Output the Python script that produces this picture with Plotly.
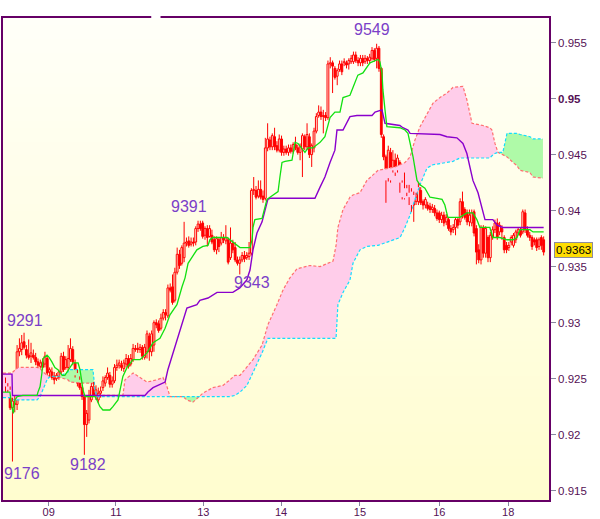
import plotly.graph_objects as go

# ---------------- data (prices in pips, i.e. price * 10000) ----------------
OPEN_PIPS = [
    9246,9243,9240,9224,9228,9227,9274,9276,9283,9276,9271,9270,9271,9269,9265,9261,9260,9263,9268,9256,9256,9252,9250,9252,9256,9270,9260,9260,9267,9276,9264,9255,9249,9242,9234,9209,9213,9231,9243,9235,9231,9237,9242,9246,9251,
    9253,9245,9248,9260,9262,9262,9259,9263,9268,9263,9267,9277,9277,9276,9278,9269,9274,9288,9274,9280,9300,9299,9295,9304,9309,9306,9331,9332,9320,9345,9361,9353,9358,9371,9373,9370,9372,9372,9384,9388,9389,9378,9384,9377,
    9378,9374,9365,9374,9371,9376,9373,9374,9358,9371,9367,9356,9353,9356,9360,9358,9359,9362,9418,9418,9413,9419,9413,9411,9456,9463,9457,9466,9458,9454,9464,9452,9455,9452,9456,9453,9459,9456,9452,9455,9466,9457,
    9466,9450,9456,9471,9485,9488,9484,9485,9483,9531,9532,9527,9520,9526,9531,9532,9532,9531,9533,9533,9539,9534,9532,9536,9533,9536,9534,9536,9543,9536,9545,9527,9466,9448,9429,9452,9436,9445,9436,9443,9425,9411,9420,
    9416,9405,9414,9408,9408,9418,9408,9405,9405,9404,9401,9402,9398,9398,9392,9396,9390,9392,9384,9383,9385,9392,9390,9408,9401,9398,9390,
    9389,9399,9384,9365,9356,9385,9362,9376,9358,9376,9383,9389,9381,9384,9376,9369,9367,9372,9369,9374,9380,9383,
    9381,9398,9383,9378,9376,9374,9374,9368,9376,9374,
]
HIGH_PIPS = [
    9251,9246,9243,9233,9235,9280,9286,9289,9291,9280,9285,9282,9276,9273,9268,9267,9268,9274,9271,9260,9260,9256,9255,9258,9273,9274,9270,9280,9286,9279,9267,9258,9252,9244,9236,9222,9240,9246,9247,9244,9242,9243,9252,9253,9260,
    9256,9252,9263,9267,9267,9266,9267,9272,9271,9272,9281,9280,9282,9281,9280,9281,9293,9291,9293,9302,9303,9302,9308,9312,9312,9334,9335,9343,9349,9367,9365,9369,9390,9376,9377,9376,9376,9386,9391,9391,9391,9386,9387,9387,
    9383,9377,9377,9376,9381,9379,9387,9376,9385,9374,9372,9359,9359,9363,9364,9363,9372,9420,9430,9422,9427,9427,9418,9465,9478,9466,9469,9474,9462,9468,9467,9458,9458,9459,9459,9461,9466,9459,9460,9469,9468,9478,
    9469,9460,9474,9487,9494,9493,9490,9488,9534,9537,9534,9529,9527,9534,9534,9536,9534,9536,9539,9542,9542,9537,9539,9539,9539,9538,9540,9546,9545,9549,9547,9528,9468,9450,9458,9456,9454,9451,9450,9445,9427,9434,9423,
    9423,9420,9417,9416,9425,9421,9410,9412,9408,9407,9406,9405,9401,9400,9399,9399,9397,9394,9387,9388,9394,9394,9411,9417,9403,9401,9401,
    9401,9401,9387,9370,9387,9387,9386,9378,9381,9386,9392,9393,9390,9387,9378,9372,9372,9378,9380,9383,9385,9385,
    9401,9401,9386,9381,9378,9376,9376,9376,9378,9377,
]
LOW_PIPS = [
    9238,9238,9222,9176,9220,9222,9270,9271,9276,9268,9267,9264,9267,9262,9260,9259,9258,9260,9253,9252,9249,9245,9248,9249,9254,9256,9258,9257,9265,9262,9251,9243,9240,9231,9182,9198,9210,9229,9234,9231,9228,9233,9239,9243,9249,
    9242,9242,9246,9257,9259,9257,9256,9260,9259,9261,9265,9274,9273,9273,9267,9267,9268,9266,9270,9274,9295,9291,9293,9302,9302,9304,9327,9316,9318,9343,9348,9351,9354,9368,9367,9368,9368,9369,9381,9382,9375,9374,9368,9376,
    9370,9363,9361,9363,9369,9371,9370,9352,9356,9362,9354,9351,9343,9354,9354,9356,9356,9360,9414,9410,9411,9410,9407,9409,9453,9454,9454,9454,9452,9452,9449,9449,9450,9449,9451,9451,9454,9450,9445,9430,9454,9454,
    9447,9439,9452,9469,9483,9481,9469,9480,9481,9527,9505,9517,9512,9524,9521,9529,9527,9526,9531,9531,9532,9529,9529,9529,9531,9531,9531,9534,9533,9527,9524,9465,9445,9407,9426,9425,9434,9431,9434,9416,9410,9410,9413,
    9405,9399,9390,9405,9405,9405,9401,9402,9400,9398,9398,9395,9391,9389,9389,9386,9387,9382,9378,9380,9378,9384,9387,9393,9392,9387,9386,
    9386,9377,9352,9353,9352,9358,9358,9354,9354,9374,9380,9374,9378,9374,9362,9362,9364,9369,9367,9371,9378,9376,
    9379,9380,9376,9373,9365,9369,9364,9365,9365,9360,
]
CLOSE_PIPS = [
    9243,9240,9224,9230,9227,9274,9277,9282,9278,9271,9269,9273,9269,9265,9262,9264,9265,9270,9255,9258,9251,9249,9253,9256,9270,9258,9267,9268,9277,9265,9253,9246,9242,9234,9209,9219,9235,9243,9235,9240,9237,9239,9248,9251,9255,
    9245,9248,9260,9262,9264,9260,9264,9268,9261,9268,9277,9276,9276,9278,9270,9278,9290,9274,9290,9300,9298,9293,9304,9309,9307,9331,9329,9318,9345,9361,9351,9367,9371,9372,9369,9372,9371,9384,9388,9384,9377,9384,9376,9384,
    9372,9365,9375,9368,9376,9374,9376,9354,9371,9365,9356,9353,9356,9360,9357,9360,9362,9418,9419,9412,9419,9412,9410,9456,9464,9457,9467,9457,9454,9464,9452,9455,9452,9456,9453,9459,9456,9452,9457,9467,9457,9468,
    9450,9458,9471,9484,9488,9484,9485,9483,9531,9532,9529,9519,9525,9531,9524,9533,9530,9534,9536,9539,9534,9532,9536,9532,9536,9534,9537,9543,9535,9545,9527,9468,9448,9427,9454,9427,9445,9434,9447,9425,9412,9420,9416,
    9412,9417,9405,9412,9421,9407,9405,9410,9402,9401,9403,9398,9393,9392,9396,9389,9394,9384,9381,9385,9392,9387,9408,9396,9394,9390,9396,
    9398,9380,9363,9356,9385,9362,9384,9358,9378,9383,9389,9376,9387,9381,9365,9365,9369,9376,9378,9381,9383,9378,
    9399,9383,9378,9376,9368,9372,9367,9374,9369,9363,
]

# Tenkan-sen (green) : bar position / value
TENKAN_X = [-1.1,1.9,2.8,3.4,4.1,5.0,7.5,13.6,14.0,14.9,15.7,16.2,17.9,18.8,20.0,21.3,22.6,24.4,25.6,27.8,29.1,31.3,32.1,33.0,33.4,34.3,
            38.6,39.4,40.7,42.0,45.0,46.3,48.5,50.6,52.4,55.0,58.0,61.0,63.6,66.6,68.8,70.9,73.9,76.1,77.4,78.7,80.8,82.5,85.1,87.3,88.1,89.4,
            95.5,98.1,101.1,105.4,106.3,106.7,107.5,110.6,112.7,114.0,117.5,118.3,119.2,120.5,123.5,124.8,126.1,129.1,130.4,132.5,135.6,137.7,
            139.0,139.9,142.0,144.2,145.5,148.5,149.8,151.9,154.1,155.8,157.1,160.6,161.4,162.3,162.7,163.6,164.4,170.0,172.2,173.5,175.7,177.4,
            178.7,180.8,183.0,186.0,188.2,189.4,190.7,195.9,198.9,201.5,203.2,204.5,208.8,210.1,213.1,216.2,218.8,220.5,221.8,226.1,227.4,232.0]
TENKAN_PIPS = [9238,9238,9224,9219,9231,9234,9235,9235,9238,9243,9255,9268,9271,9269,9265,9260,9258,9253,9253,9260,9264,9264,9258,9246,9240,9234,
               9234,9231,9225,9222,9222,9225,9231,9252,9260,9267,9267,9273,9282,9286,9295,9307,9316,9332,9340,9353,9360,9365,9368,9369,9374,9376,
               9376,9372,9367,9367,9374,9385,9392,9393,9410,9412,9417,9430,9443,9444,9445,9461,9460,9452,9456,9456,9461,9466,
               9475,9483,9488,9488,9501,9503,9510,9521,9523,9528,9532,9535,9533,9523,9508,9490,9475,9474,9472,9469,9448,9427,
               9423,9420,9412,9411,9410,9405,9394,9394,9398,9398,9392,9385,9385,9376,9376,9374,9374,9376,9383,9383,9381,9381]

# Kijun-sen (purple)
KIJUN_X = [-1.1,2.8,3.0,60.1,61.4,63.6,65.7,68.8,70.0,72.2,75.2,78.2,82.5,83.8,87.3,91.2,98.0,101.0,104.0,105.4,106.7,108.4,110.6,111.9,
           113.1,114.0,133.4,135.6,137.7,139.9,142.0,142.9,145.5,148.5,151.5,158.0,159.3,162.3,163.6,170.0,171.3,173.5,174.4,187.3,190.3,
           194.6,197.2,198.9,200.2,201.5,203.7,205.4,206.7,210.1,211.9,214.4,232.0]
KIJUN_PIPS = [9254,9254,9235,9235,9238,9242,9244,9247,9258,9273,9293,9313,9316,9320,9322,9327,9327,9331,9338,9347,9365,9380,9390,9401,
              9410,9411,9411,9421,9430,9443,9454,9472,9472,9484,9485,9485,9488,9490,9478,9476,9474,9472,9469,9468,9466,
              9465,9460,9451,9439,9427,9416,9401,9392,9392,9387,9385,9385]

# Senkou span A (salmon) and B (cyan), on a shared set of bar positions
CLOUD_X = [-1.1,2.8,3.2,5.4,13.6,14.9,16.2,17.9,19.2,23.5,26.9,27.8,34.3,37.7,38.6,39.4,50.6,51.5,55.0,58.0,61.0,65.3,67.9,69.6,70.9,
           76.5,78.2,80.8,83.8,85.1,89.4,93.8,96.8,98.9,101.1,104.1,106.7,110.6,113.1,117.0,119.6,122.6,125.6,131.2,135.6,141.2,142.5,
           143.3,145.5,148.5,149.8,152.8,155.8,160.6,167.9,170.1,172.2,174.4,176.5,178.7,181.7,184.3,187.3,190.3,192.9,195.9,197.2,
           198.9,201.1,205.8,208.8,209.7,211.0,212.3,214.4,216.2,218.8,220.5,221.8,226.1,227.4,231.7]
SPAN_A_PIPS = [9255,9255,9256,9260,9260,9259,9256,9253,9252,9251,9249,9247,9246,9246,9238,9235,9235,9249,9255,9251,9247,9249,9251,9243,9234,
               9234,9231,9229,9234,9237,9242,9244,9249,9253,9253,9260,9267,9280,9298,9316,9329,9340,9348,9351,9350,9355,9369,
               9385,9401,9412,9414,9416,9427,9436,9439,9441,9443,9448,9463,9475,9487,9496,9501,9505,9510,9511,9511,
               9499,9478,9476,9474,9472,9460,9452,9450,9448,9443,9440,9436,9434,9430,9429]
SPAN_B_PIPS = [9233,9233,9231,9231,9231,9234,9240,9249,9252,9252,9256,9258,9258,9258,9240,9234,9234,9234,9234,9234,9234,9234,9234,9234,9234,
               9234,9234,9234,9234,9234,9234,9234,9234,9235,9238,9244,9255,9273,9286,9286,9286,9286,9286,9286,9286,9286,9286,
               9316,9327,9338,9353,9365,9368,9369,9374,9376,9385,9396,9410,9423,9438,9441,9442,9443,9444,9447,9447,
               9447,9447,9447,9447,9449,9451,9452,9452,9469,9469,9469,9468,9466,9464,9464]

# x axis day labels (bar positions)
DAY_TICK_POS = [18.6, 47.6, 85.3, 118.8, 152.8, 187.0, 216.7]
DAY_TICK_LABELS = ["09", "11", "13", "14", "15", "16", "18"]

Y_TICKS = [0.915, 0.92, 0.925, 0.93, 0.935, 0.94, 0.945, 0.95, 0.955]
Y_TICK_TEXT = ["0.915", "0.92", "0.925", "0.93", "0.935", "0.94", "0.945", "<b>0.95</b>", "0.955"]

LAST_PRICE = 0.9363

# extreme labels: (text, bar, price, position, xshift, yshift)
EXTREMES = [
    ("9291", 8, 0.9291, "above", 1, 2),
    ("9176", 3, 0.9176, "below", 10, -1),
    ("9182", 34, 0.9182, "below", 4, 1),
    ("9391", 84, 0.9391, "above", -11, 4),
    ("9343", 101, 0.9343, "below", 12, 2),
    ("9549", 160, 0.9549, "above", -5, 4),
]

# ---------------- build ----------------
P = lambda lst: [v / 10000 for v in lst]
opens, highs, lows, closes = P(OPEN_PIPS), P(HIGH_PIPS), P(LOW_PIPS), P(CLOSE_PIPS)
highs = [max(h, o, c) for h, o, c in zip(highs, opens, closes)]
lows = [min(l, o, c) for l, o, c in zip(lows, opens, closes)]
bars = list(range(len(opens)))

span_a, span_b = P(SPAN_A_PIPS), P(SPAN_B_PIPS)


def split_cloud(xs, a, b):
    groups = []

    def add(sign, pts):
        if groups and groups[-1][0] == sign:
            groups[-1][1].extend(pts[1:])
        else:
            groups.append([sign, list(pts)])

    for i in range(len(xs) - 1):
        x0, x1 = xs[i], xs[i + 1]
        a0, a1, b0, b1 = a[i], a[i + 1], b[i], b[i + 1]
        d0, d1 = a0 - b0, a1 - b1
        if d0 * d1 < 0:
            t = d0 / (d0 - d1)
            xc = x0 + t * (x1 - x0)
            yc = a0 + t * (a1 - a0)
            add(1 if d0 > 0 else -1, [(x0, a0, b0), (xc, yc, yc)])
            add(1 if d1 > 0 else -1, [(xc, yc, yc), (x1, a1, b1)])
        else:
            s = d0 if d0 != 0 else d1
            if s > 0:
                sign = 1
            elif s < 0:
                sign = -1
            else:
                sign = groups[-1][0] if groups else 1
            add(sign, [(x0, a0, b0), (x1, a1, b1)])
    return groups


fig = go.Figure()

PINK = "#ffcdea"
GREEN = "#affaa8"
for sign, pts in split_cloud(CLOUD_X, span_a, span_b):
    px = [p[0] for p in pts] + [p[0] for p in reversed(pts)]
    py = [p[1] for p in pts] + [p[2] for p in reversed(pts)]
    fig.add_trace(go.Scatter(x=px, y=py, fill="toself", mode="lines",
                             line=dict(width=0), fillcolor=PINK if sign > 0 else GREEN,
                             hoverinfo="skip", showlegend=False))

fig.add_trace(go.Scatter(x=CLOUD_X, y=span_a, mode="lines",
                         line=dict(color="#ff6f6f", width=1.2, dash="3px,2px"),
                         showlegend=False, hoverinfo="skip"))
fig.add_trace(go.Scatter(x=CLOUD_X, y=span_b, mode="lines",
                         line=dict(color="#11ddff", width=1.2, dash="3px,2px"),
                         showlegend=False, hoverinfo="skip"))

# candles: wicks (outside the bodies) + bodies
RED = "#ff0000"
wx, wy = [], []
for i, o, h, l, c in zip(bars, opens, highs, lows, closes):
    top, bot = max(o, c), min(o, c)
    if h > top:
        wx += [i, i, None]
        wy += [top, h, None]
    if l < bot:
        wx += [i, i, None]
        wy += [bot, l, None]
fig.add_trace(go.Scatter(x=wx, y=wy, mode="lines", line=dict(color=RED, width=1),
                         showlegend=False, hoverinfo="skip"))
fig.add_trace(go.Bar(
    x=bars, base=[min(o, c) for o, c in zip(opens, closes)],
    y=[max(abs(c - o), 0.00003) for o, c in zip(opens, closes)],
    width=0.78,
    marker=dict(color=["rgba(0,0,0,0)" if c >= o else RED for o, c in zip(opens, closes)],
                line=dict(color=RED, width=1)),
    showlegend=False, hoverinfo="skip"))

fig.add_trace(go.Scatter(x=KIJUN_X, y=P(KIJUN_PIPS), mode="lines",
                         line=dict(color="#8a00cc", width=1.4), showlegend=False, hoverinfo="skip"))
fig.add_trace(go.Scatter(x=TENKAN_X, y=P(TENKAN_PIPS), mode="lines",
                         line=dict(color="#11e011", width=1.3), showlegend=False, hoverinfo="skip"))

# background gradient (pale white -> pale yellow)
shapes = []
NB = 70
top_c, bot_c = (255, 255, 248), (255, 253, 207)
for k in range(NB):
    t = k / (NB - 1)
    col = tuple(round(top_c[j] + (bot_c[j] - top_c[j]) * t) for j in range(3))
    shapes.append(dict(type="rect", xref="paper", yref="paper", x0=0, x1=1,
                       y0=1 - (k + 1) / NB - 0.002, y1=1 - k / NB,
                       fillcolor="rgb(%d,%d,%d)" % col, line=dict(width=0), layer="below"))
# small gap in the top frame line
shapes.append(dict(type="line", xref="paper", yref="paper", x0=0.2715, x1=0.2885, y0=1.003, y1=1.003,
                   line=dict(color="white", width=4), layer="above"))

annotations = []
for text, bar, price, pos, xs, ys in EXTREMES:
    annotations.append(dict(x=bar, y=price, xref="x", yref="y", text=text, showarrow=False,
                            yanchor="bottom" if pos == "above" else "top", xanchor="center",
                            xshift=xs, yshift=ys,
                            font=dict(family="Liberation Sans", size=16, color="#7b3fc8")))
annotations.append(dict(x=1, y=LAST_PRICE, xref="paper", yref="y", text="%.4f" % LAST_PRICE,
                        showarrow=False, xanchor="left", yanchor="middle", xshift=5, yshift=2,
                        bgcolor="#ffdd00", bordercolor="#8c8c9c", borderwidth=1, borderpad=1,
                        font=dict(family="Liberation Sans", size=11.5, color="#000000")))

AXIS_COLOR = "#660066"
fig.update_layout(
    width=600, height=519,
    margin=dict(l=3, r=51, t=18, b=19, autoexpand=False),
    paper_bgcolor="white", plot_bgcolor="rgba(0,0,0,0)",
    font=dict(family="Liberation Sans", size=11.5, color="#551155"),
    shapes=shapes, annotations=annotations,
    xaxis=dict(range=[-1.08, 234.3], showgrid=False, zeroline=False,
               tickmode="array", tickvals=DAY_TICK_POS, ticktext=DAY_TICK_LABELS,
               ticks="outside", ticklen=4, tickcolor="#8888a0",
               tickfont=dict(size=11), ticklabelstandoff=-3,
               showline=True, linecolor=AXIS_COLOR, linewidth=1.5, mirror=True, fixedrange=True),
    yaxis=dict(range=[0.914165, 0.95720], side="right", showgrid=False, zeroline=False,
               tickmode="array", tickvals=Y_TICKS, ticktext=Y_TICK_TEXT,
               ticks="outside", ticklen=5, tickcolor="#8888a0",
               showline=True, linecolor=AXIS_COLOR, linewidth=1.5, mirror=True, fixedrange=True),
)

fig.write_html("out.html", config={"displayModeBar": False},
               post_script="document.body.style.margin='0px';document.body.style.overflow='hidden';")
